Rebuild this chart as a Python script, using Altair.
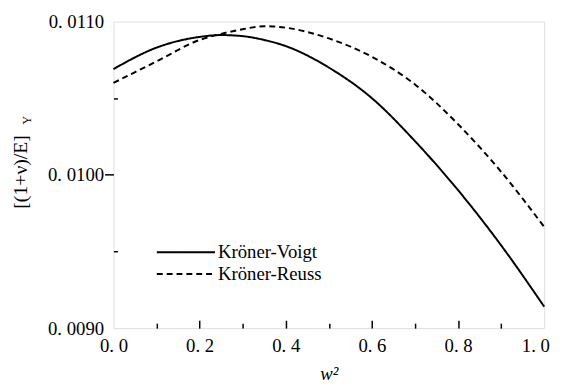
import altair as alt
import pandas as pd

w2 = [0.0, 0.1, 0.2, 0.25, 0.3, 0.35, 0.4, 0.5, 0.6, 0.7, 0.8, 0.9, 1.0]
voigt = [0.01069, 0.01083, 0.01090, 0.010912, 0.010905, 0.01088, 0.01084, 0.01070, 0.01050, 0.01022, 0.00990, 0.00954, 0.00914]
reuss = [0.01060, 0.01074, 0.01088, 0.01092, 0.01095, 0.01097, 0.01096, 0.01089, 0.01077, 0.01059, 0.01033, 0.01002, 0.00966]
series_names = ["Kröner-Voigt", "Kröner-Reuss"]

x_labels = [0.0, 0.2, 0.4, 0.6, 0.8, 1.0]
x_minor = [0.1, 0.3, 0.5, 0.7, 0.9]
x_major_in = [0.2, 0.4, 0.6, 0.8]
y_labels = [0.009, 0.010, 0.011]
y_major_out = [0.010]
y_minor = [0.0095, 0.0105]

rows = []
for s, vals in zip(series_names, [voigt, reuss]):
    for a, b in zip(w2, vals):
        rows.append({"w2": a, "v": b, "series": s})
df = pd.DataFrame(rows)

FONT = "Liberation Serif, Times New Roman, serif"
xs = alt.Scale(domain=[0, 1], nice=False, zero=False)
ys = alt.Scale(domain=[0.009, 0.011], nice=False, zero=False)

base = alt.Chart(df)

lines = base.mark_line(color="black", strokeWidth=2, interpolate="monotone").encode(
    x=alt.X("w2:Q", scale=xs, axis=alt.Axis(
        orient="bottom", values=x_labels, ticks=False, domain=False, grid=False,
        labelExpr="replace(format(datum.value,'.1f'),'.','. ')", labelFlush=False,
        labelOffset={"condition": {"test": "datum.value == 1", "value": -9}, "value": 0},
        labelFont=FONT, labelFontSize=19, labelColor="black", labelPadding=9,
        title="w²", titleFont=FONT, titleFontSize=19, titleFontStyle="italic",
        titleFontWeight="normal", titleColor="black", titlePadding=9)),
    y=alt.Y("v:Q", scale=ys, axis=alt.Axis(
        orient="left", values=y_labels, ticks=False, domain=False, grid=False,
        labelExpr="replace(format(datum.value,'.4f'),'.','. ')", labelFlush=False,
        labelFont=FONT, labelFontSize=19, labelColor="black", labelPadding=10,
        title="[(1+ν)/E]", titleFont=FONT, titleFontSize=20, titleFontWeight="normal",
        titleColor="black", titleX=-84, titleY=152)),
    strokeDash=alt.StrokeDash("series:N", scale=alt.Scale(domain=series_names, range=[[1, 0], [6, 4]]),
        legend=alt.Legend(title=None, orient="none", legendX=43, legendY=223,
                          symbolType="stroke", symbolSize=3481, symbolStrokeWidth=2,
                          symbolStrokeColor="black", labelFont=FONT, labelFontSize=19,
                          labelColor="black", labelOffset=2, rowPadding=0, clipHeight=22,
                          padding=0)),
)

def tick_layer(xvals=None, yvals=None, xsize=0, ysize=0, xoff=0, yoff=0):
    xa = alt.Axis(orient="bottom", values=xvals or [], labels=False, domain=False, grid=False,
                  ticks=bool(xvals), tickSize=max(xsize, 1), tickColor="black", tickWidth=1.5,
                  offset=xoff, title=None)
    ya = alt.Axis(orient="left", values=yvals or [], labels=False, domain=False, grid=False,
                  ticks=bool(yvals), tickSize=max(ysize, 1), tickColor="black", tickWidth=1.5,
                  offset=yoff, title=None)
    return base.mark_point(opacity=0).encode(
        x=alt.X("w2:Q", scale=xs, axis=xa),
        y=alt.Y("v:Q", scale=ys, axis=ya),
    )

t1 = tick_layer(xvals=x_major_in, xsize=8, xoff=-8, yvals=y_major_out, ysize=9, yoff=0)
t2 = tick_layer(xvals=x_minor, xsize=5, xoff=-5, yvals=y_minor, ysize=4, yoff=-4)

sub = alt.Chart(pd.DataFrame({"t": ["Y"]})).mark_text(
    font=FONT, fontSize=12, angle=270, color="black", align="center", baseline="middle"
).encode(text="t:N", x=alt.value(-88), y=alt.value(100))

chart = alt.layer(lines, t1, t2, sub).resolve_axis(x="independent", y="independent").properties(
    width=437, height=311,
    autosize=alt.AutoSizeParams(type="none"),
    padding={"left": 107, "top": 11, "right": 15, "bottom": 60},
).configure_view(stroke="black", strokeWidth=1.5).configure(background="white")

chart.save("out.html", embed_options={"renderer": "svg", "actions": False})
